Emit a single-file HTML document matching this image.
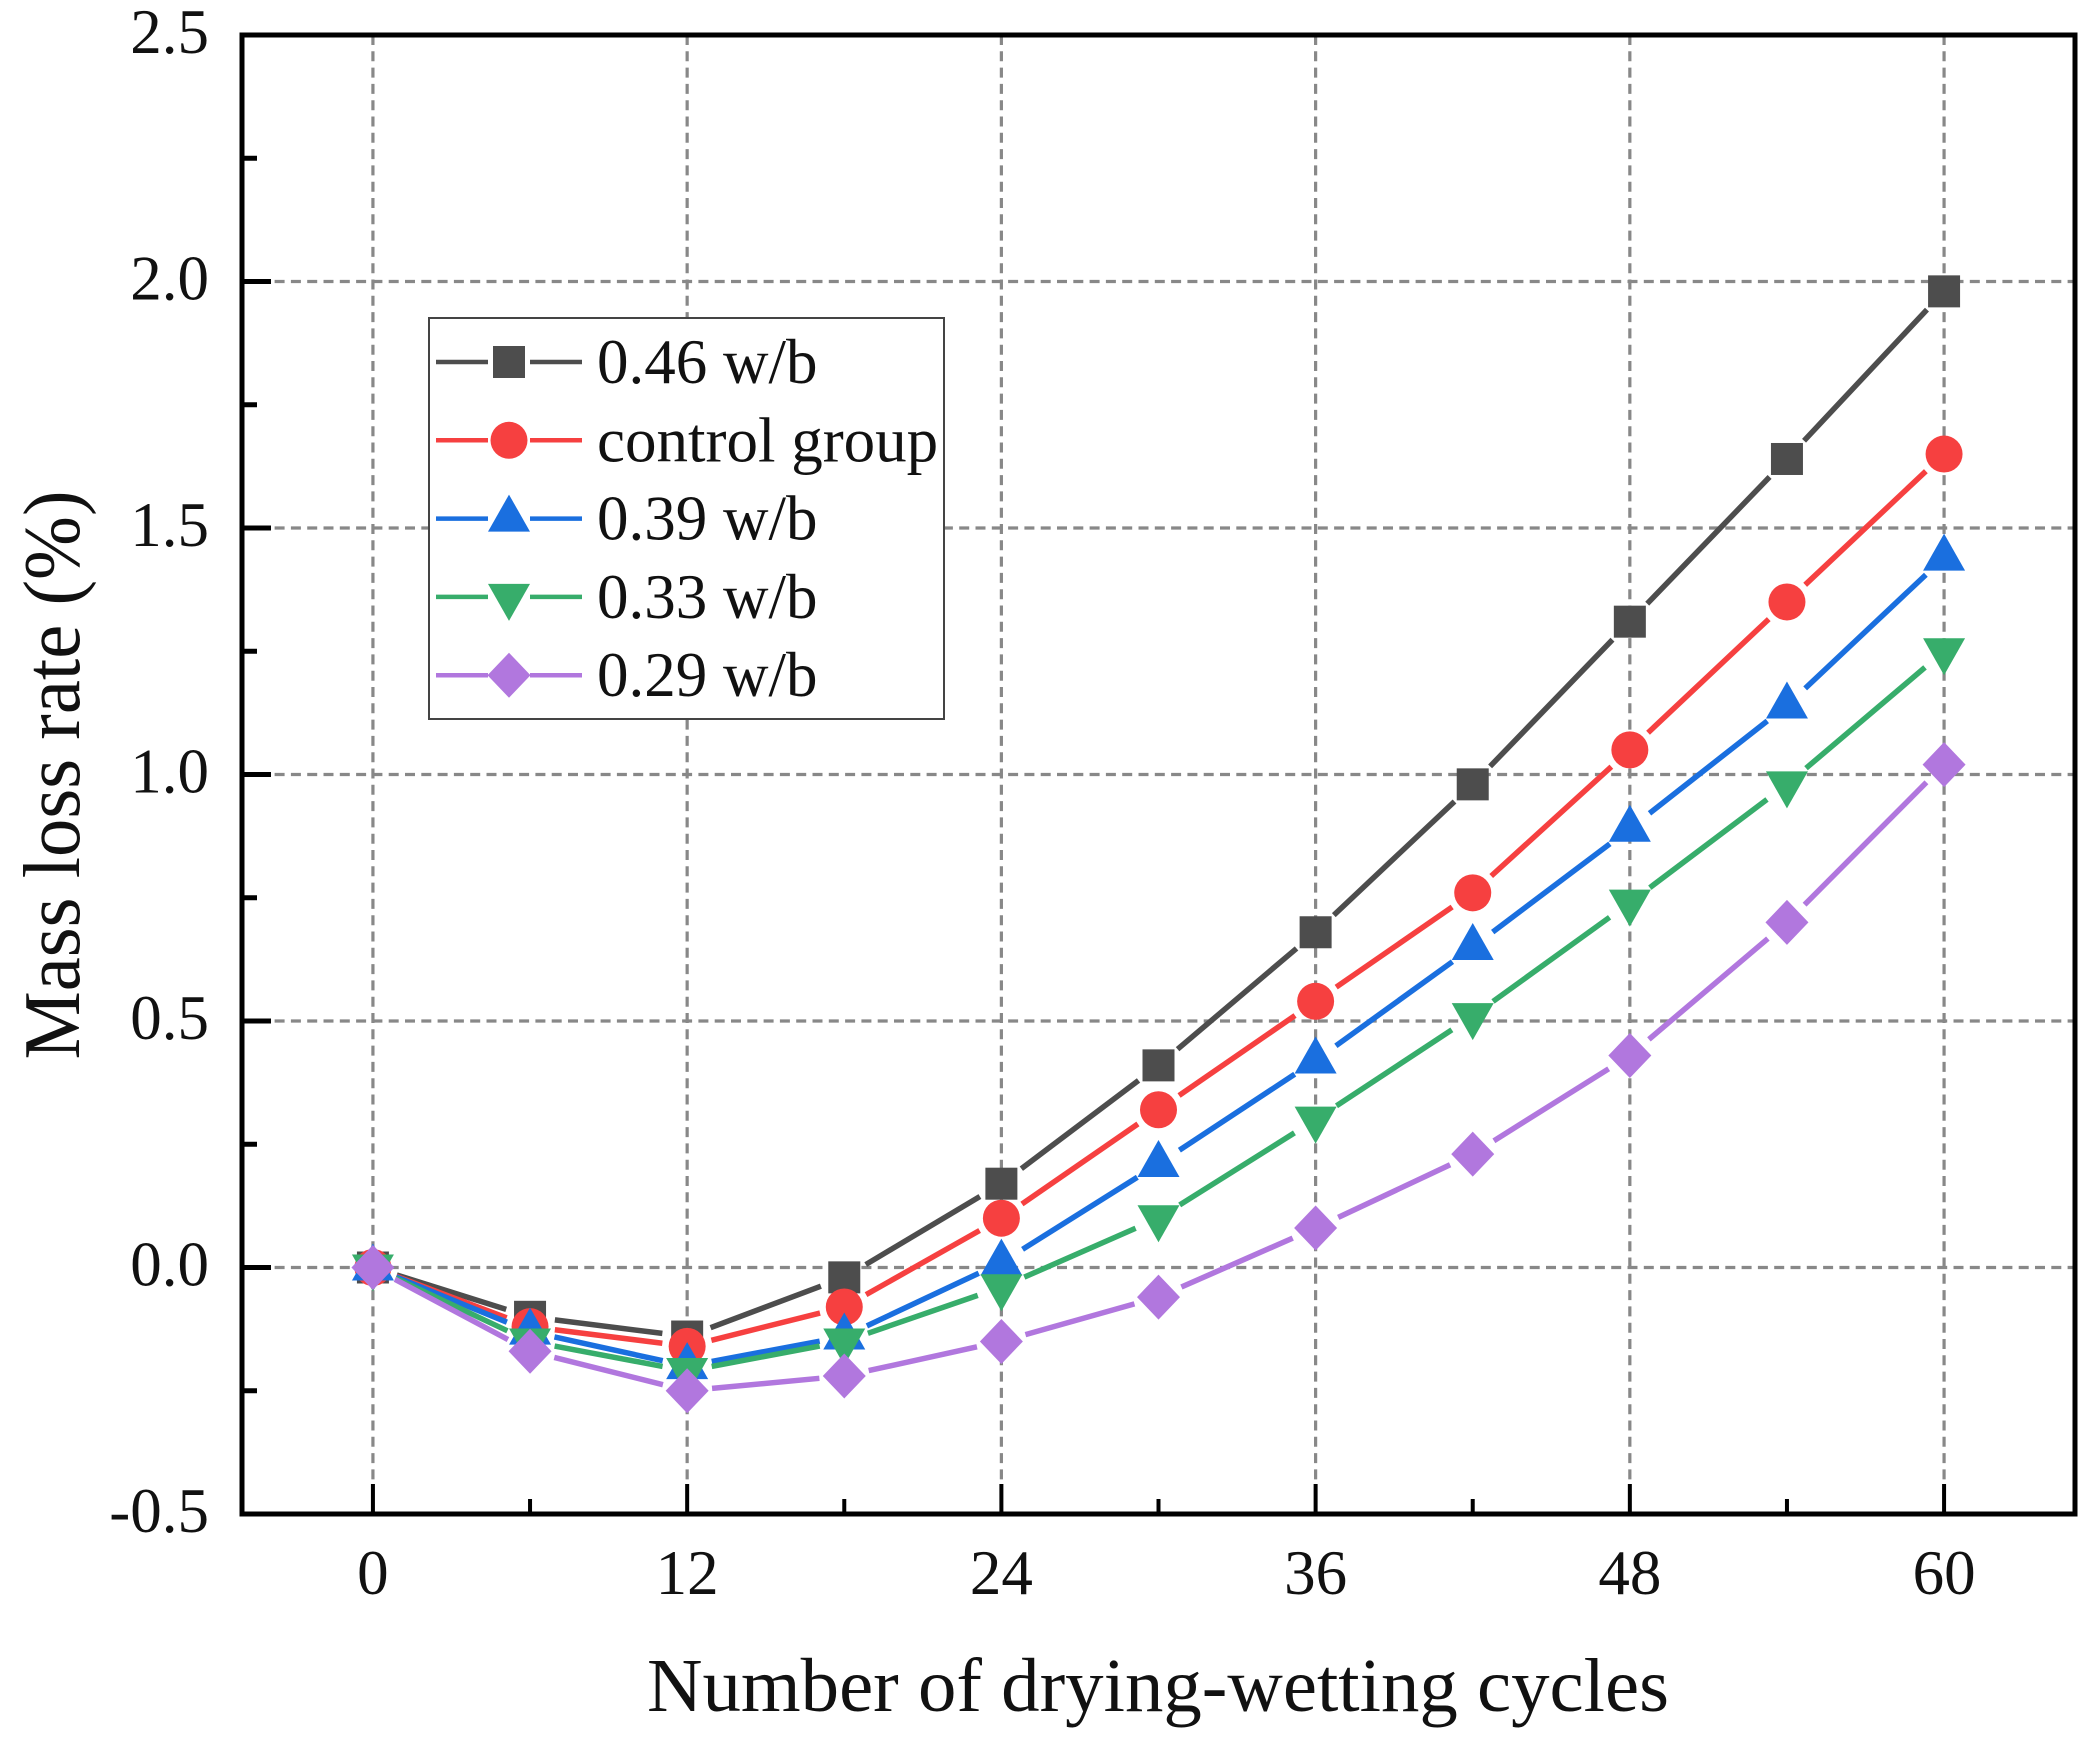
<!DOCTYPE html>
<html>
<head>
<meta charset="utf-8">
<title>Mass loss rate chart</title>
<style>
html,body{margin:0;padding:0;background:#fff;}
svg{display:block;}
text{font-family:"Liberation Serif",serif;fill:#111;}
</style>
</head>
<body>
<svg id="chart" xmlns="http://www.w3.org/2000/svg" width="2094" height="1742" viewBox="0 0 2094 1742">
  <rect x="0" y="0" width="2094" height="1742" fill="#ffffff"/>
  <g id="grid"></g>
  <g id="series"></g>
  <rect x="242" y="35" width="1833" height="1479" fill="none" stroke="#000" stroke-width="5"/>
  <g id="ticks"></g>
  <g id="legend"></g>
  <text x="1158" y="1711" font-size="76" text-anchor="middle" textLength="1022" lengthAdjust="spacingAndGlyphs">Number of drying-wetting cycles</text>
  <text transform="translate(79,775) rotate(-90)" font-size="80" text-anchor="middle" textLength="569" lengthAdjust="spacingAndGlyphs">Mass loss rate (%)</text>
</svg>
<script>
const cycles = [0, 6, 12, 18, 24, 30, 36, 42, 48, 54, 60];
const seriesNames = ['0.46 w/b', 'control group', '0.39 w/b', '0.33 w/b', '0.29 w/b'];
const seriesW46 = [0, -0.10, -0.14, -0.02, 0.17, 0.41, 0.68, 0.98, 1.31, 1.64, 1.98];
const seriesControl = [0, -0.12, -0.16, -0.08, 0.10, 0.32, 0.54, 0.76, 1.05, 1.35, 1.65];
const seriesW39 = [0, -0.13, -0.20, -0.14, 0.01, 0.21, 0.42, 0.65, 0.89, 1.14, 1.44];
const seriesW33 = [0, -0.15, -0.21, -0.15, -0.04, 0.10, 0.30, 0.51, 0.74, 0.98, 1.25];
const seriesW29 = [0, -0.17, -0.25, -0.22, -0.15, -0.06, 0.08, 0.23, 0.43, 0.70, 1.02];
const xTickLabels = ['0', '12', '24', '36', '48', '60'];
const xMinorTicks = [6, 18, 30, 42, 54];
const yTickLabels = ['-0.5', '0.0', '0.5', '1.0', '1.5', '2.0', '2.5'];
const yMinorTicks = [-0.25, 0.25, 0.75, 1.25, 1.75, 2.25];

const allSeries = [seriesW46, seriesControl, seriesW39, seriesW33, seriesW29];
const colors = ['#4d4d4d', '#f64040', '#1a6fdf', '#37ad6b', '#b177de'];
const shapes = ['square', 'circle', 'up', 'down', 'diamond'];
const NS = 'http://www.w3.org/2000/svg';

const plot = { left: 242, right: 2075, top: 35, bottom: 1514 };
const xDomain = [-5, 65];
const yDomain = [-0.5, 2.5];
function xScale(v) { return plot.left + (v - xDomain[0]) / (xDomain[1] - xDomain[0]) * (plot.right - plot.left); }
function yScale(v) { return plot.bottom - (v - yDomain[0]) / (yDomain[1] - yDomain[0]) * (plot.bottom - plot.top); }

function make(tag, attrs, parent) {
  const e = document.createElementNS(NS, tag);
  for (const k in attrs) e.setAttribute(k, attrs[k]);
  parent.appendChild(e);
  return e;
}

function drawMarker(shape, cx, cy, color, parent) {
  let m;
  if (shape === 'square') {
    m = make('rect', { x: cx - 16, y: cy - 16, width: 32, height: 32, fill: color }, parent);
  } else if (shape === 'circle') {
    m = make('circle', { cx: cx, cy: cy, r: 18.5, fill: color }, parent);
  } else if (shape === 'up') {
    m = make('polygon', { points: (cx - 21) + ',' + (cy + 13) + ' ' + (cx + 21) + ',' + (cy + 13) + ' ' + cx + ',' + (cy - 24), fill: color }, parent);
  } else if (shape === 'down') {
    m = make('polygon', { points: (cx - 21) + ',' + (cy - 13) + ' ' + (cx + 21) + ',' + (cy - 13) + ' ' + cx + ',' + (cy + 24), fill: color }, parent);
  } else {
    m = make('polygon', { points: (cx - 21.5) + ',' + cy + ' ' + cx + ',' + (cy - 22.5) + ' ' + (cx + 21.5) + ',' + cy + ' ' + cx + ',' + (cy + 22.5), fill: color }, parent);
  }
  return m;
}

/* grid */
const gridG = document.getElementById('grid');
xTickLabels.forEach(function (t) {
  const x = xScale(Number(t));
  const g = make('line', { x1: x, x2: x, y1: plot.top, y2: plot.bottom, stroke: '#888', 'stroke-width': 3.2, 'stroke-dasharray': '10 6.3' }, gridG);
  
  
});
yTickLabels.forEach(function (t) {
  const v = Number(t);
  if (v <= yDomain[0] || v >= yDomain[1]) return;
  const y = yScale(v);
  const g = make('line', { x1: plot.left, x2: plot.right, y1: y, y2: y, stroke: '#888', 'stroke-width': 3.2, 'stroke-dasharray': '10 6.3' }, gridG);
  
  
});

/* series */
const seriesG = document.getElementById('series');
const GAP = 25;
allSeries.forEach(function (vals, si) {
  const sg = make('g', {}, seriesG);
  
  
  for (let i = 0; i < vals.length - 1; i++) {
    const x1 = xScale(cycles[i]), y1 = yScale(vals[i]);
    const x2 = xScale(cycles[i + 1]), y2 = yScale(vals[i + 1]);
    const len = Math.hypot(x2 - x1, y2 - y1);
    const ux = (x2 - x1) / len, uy = (y2 - y1) / len;
    const seg = make('line', { x1: x1 + ux * GAP, y1: y1 + uy * GAP, x2: x2 - ux * GAP, y2: y2 - uy * GAP, stroke: colors[si], 'stroke-width': 5.5 }, sg);
    
    
  }
  vals.forEach(function (v, i) {
    const mk = drawMarker(shapes[si], xScale(cycles[i]), yScale(v), colors[si], sg);
    
    
  });
});

/* ticks */
const tickG = document.getElementById('ticks');
xTickLabels.forEach(function (t) {
  const x = xScale(Number(t));
  const tk = make('line', { x1: x, x2: x, y1: plot.bottom, y2: plot.bottom - 30, stroke: '#000', 'stroke-width': 4 }, tickG);
  
  
  const lb = make('text', { x: x, y: 1594, 'font-size': 63, 'text-anchor': 'middle' }, tickG);
  lb.textContent = t;
  
  
});
xMinorTicks.forEach(function (v) {
  const x = xScale(v);
  const tk = make('line', { x1: x, x2: x, y1: plot.bottom, y2: plot.bottom - 15, stroke: '#000', 'stroke-width': 4 }, tickG);
  
  
});
yTickLabels.forEach(function (t) {
  const y = yScale(Number(t));
  const tk = make('line', { x1: plot.left, x2: plot.left + 29, y1: y, y2: y, stroke: '#000', 'stroke-width': 5 }, tickG);
  
  
  const lb = make('text', { x: 209, y: y + 18, 'font-size': 63, 'text-anchor': 'end' }, tickG);
  lb.textContent = t;
  
  
});
yMinorTicks.forEach(function (v) {
  const y = yScale(v);
  const tk = make('line', { x1: plot.left, x2: plot.left + 15, y1: y, y2: y, stroke: '#000', 'stroke-width': 5 }, tickG);
  
  
});

/* legend */
const legendG = document.getElementById('legend');
const box = make('rect', { x: 429, y: 318, width: 515, height: 401, fill: '#fff', stroke: '#444', 'stroke-width': 2 }, legendG);


seriesNames.forEach(function (name, i) {
  const cy = 362 + i * 78.3;
  const entry = make('g', {}, legendG);
  
  
  const l1 = make('line', { x1: 436, x2: 488, y1: cy, y2: cy, stroke: colors[i], 'stroke-width': 4.5 }, entry);
  
  
  const l2 = make('line', { x1: 530, x2: 582, y1: cy, y2: cy, stroke: colors[i], 'stroke-width': 4.5 }, entry);
  
  
  const mk = drawMarker(shapes[i], 509, cy, colors[i], entry);
  
  
  const tx = make('text', { x: 597, y: cy + 21, 'font-size': 63 }, entry);
  tx.textContent = name;
  
  
});
</script>
</body>
</html>
